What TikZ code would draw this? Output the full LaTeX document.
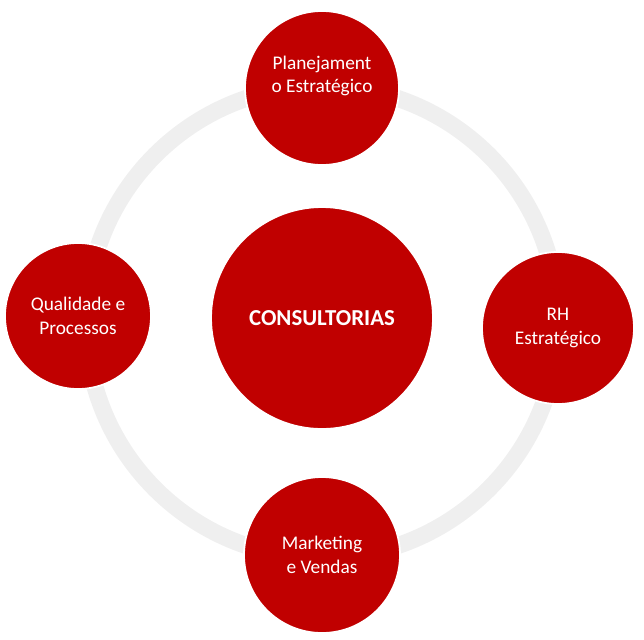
\documentclass[tikz,border=0pt]{standalone}
\usepackage{fontspec}
\setmainfont{Carlito}
\definecolor{redc}{HTML}{C00000}
\definecolor{ringc}{HTML}{EFEFEF}
\begin{document}
\begin{tikzpicture}[x=0.02cm,y=-0.02cm,
  bubble/.style={circle,fill=redc,draw=white,line width=1pt,text=white,align=center,font=\fontsize{11}{13.5}\selectfont}]

\useasboundingbox (0,0) rectangle (644,639);

%ring
\draw [ringc,line width=0.34cm] (322,322) circle [radius=236] ;

%centre
\node [bubble,minimum size=4.44cm,font=\fontsize{13}{15}\selectfont\bfseries] (core) at (322,318) {CONSULTORIAS} ;

%outer circles
\node [bubble,minimum size=3.08cm] (plan) at (322,88) {Planejament\\o Estratégico\\[2pt]} ;
\node [bubble,minimum size=2.92cm] (qual) at (78,316) {Qualidade e\\Processos} ;
\node [bubble,minimum size=3.04cm] (rh) at (558,328) {RH\\Estratégico} ;
\node [bubble,minimum size=3.12cm] (mkt) at (322,555) {Marketing\\e Vendas} ;

\end{tikzpicture}
\end{document}
